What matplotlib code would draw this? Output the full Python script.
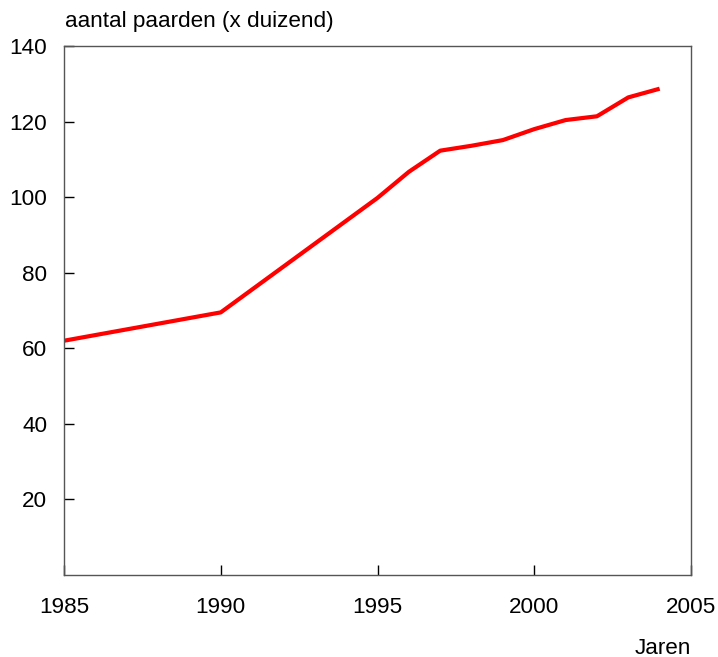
import matplotlib
matplotlib.use("Agg")
import matplotlib.pyplot as plt

plt.rcParams['font.family'] = ['Liberation Sans', 'DejaVu Sans']

# --- data ---
years = [1985, 1990, 1995, 1996, 1997, 1998, 1999, 2000, 2001, 2002, 2003, 2004]
paarden = [62.0, 69.5, 99.8, 106.7, 112.3, 113.6, 115.1, 118.0, 120.4, 121.4, 126.4, 128.7]
x_ticks = [1985, 1990, 1995, 2000, 2005]
y_ticks = [20, 40, 60, 80, 100, 120, 140]

fig = plt.figure(figsize=(7.18, 6.57), dpi=100)
ax = fig.add_axes([64 / 718, 82 / 657, 627 / 718, 529 / 657])

ax.plot(years, paarden, color='#ff0000', linewidth=3.0, solid_capstyle='butt')

ax.set_xlim(1985, 2005)
ax.set_ylim(0, 140)
ax.set_xticks(x_ticks)
ax.set_yticks(y_ticks)

for s in ax.spines.values():
    s.set_color('#555555')
    s.set_linewidth(1.0)

ax.tick_params(axis='both', direction='in', length=7, width=1, colors='black',
               labelsize=16.2)
ax.tick_params(axis='y', pad=12)
ax.tick_params(axis='x', pad=15.5)

fig.text(65 / 718, 1 - 22 / 657, 'aantal paarden (x duizend)', fontsize=16.2,
         ha='left', va='center')
fig.text(691 / 718, 1 - 648 / 657, 'Jaren', fontsize=16.2, ha='right', va='center')

fig.savefig('out.png', dpi=100)
